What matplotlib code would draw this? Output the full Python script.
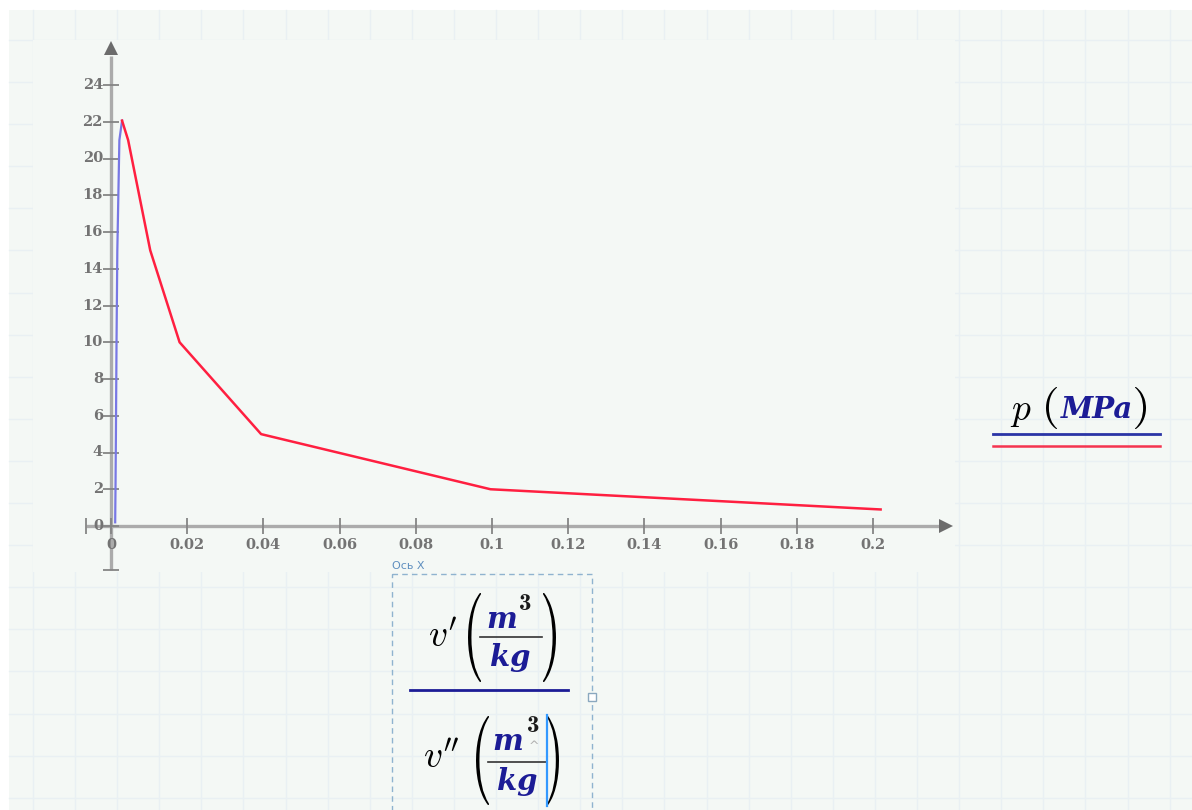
import numpy as np
import matplotlib
matplotlib.use("Agg")
import matplotlib.pyplot as plt
from matplotlib.patches import Rectangle, PathPatch
from matplotlib.textpath import TextPath
from matplotlib.font_manager import FontProperties
from matplotlib.transforms import Affine2D

plt.rcParams['mathtext.fontset'] = 'cm'

# saturation line of water: liquid v' and vapour v'' vs pressure
v_liq = [0.0011, 0.00113, 0.00118, 0.00129, 0.00145, 0.00166, 0.0022, 0.0029]
p_liq = [0.2, 1, 2, 5, 10, 15, 21, 22.06]
v_vap = [0.0029, 0.0045, 0.0103, 0.018, 0.0394, 0.0996, 0.202]
p_vap = [22.06, 21, 15, 10, 5, 2, 0.9]

x_ticks = [0, 0.02, 0.04, 0.06, 0.08, 0.1, 0.12, 0.14, 0.16, 0.18, 0.2]
x_labels = ["0", "0.02", "0.04", "0.06", "0.08", "0.1", "0.12", "0.14", "0.16", "0.18", "0.2"]
y_ticks = [0, 2, 4, 6, 8, 10, 12, 14, 16, 18, 20, 22, 24]
y_labels = [str(t) for t in y_ticks]

SHEET = '#f4f8f5'
GRID = '#e9f0f3'
AXIS = '#ababab'
TICK = '#858585'
LABEL = '#737373'
NAVY = '#1c1c96'

fig = plt.figure(figsize=(11.92, 8.10), dpi=100, facecolor='white')

# worksheet background in pixel coordinates
bg = fig.add_axes([0, 0, 1, 1])
bg.set_xlim(0, 1192)
bg.set_ylim(810, 0)
bg.axis('off')
bg.add_patch(Rectangle((9, 10), 1200, 820, fc=SHEET, ec='none', zorder=0))
for gx in np.arange(33, 1192, 42.1):
    bg.plot([gx, gx], [10, 810], color=GRID, lw=1, zorder=1)
for gy in np.arange(40, 810, 42.1):
    bg.plot([9, 1192], [gy, gy], color=GRID, lw=1, zorder=1)
# plot region hides the sheet grid
bg.add_patch(Rectangle((33, 40), 922, 532, fc=SHEET, ec='none', zorder=2))


def paren(ax, char, x0, y_top, w, h, color='black'):
    tp = TextPath((0, 0), char, size=40, prop=FontProperties(family='cmr10'))
    ext = tp.get_extents()
    tr = (Affine2D().translate(-ext.x0, -ext.y1)
          .scale(w / ext.width, -h / ext.height).translate(x0, y_top))
    ax.add_patch(PathPatch(tr.transform_path(tp), fc=color, ec='none', zorder=5))


# main plot, scaled so data units land on the sheet
ax = fig.add_axes([0, 0, 1, 1])
ax.patch.set_alpha(0)
ax.set_xlim(-111 / 3810, (1192 - 111) / 3810)
ax.set_ylim((526 - 810) / 18.375, 526 / 18.375)
ax.axis('off')

ax.plot([-0.0066, 0.2180], [0, 0], color=AXIS, lw=2.4, solid_capstyle='butt', zorder=3)
ax.plot([0, 0], [-2.4, 25.6], color=AXIS, lw=2.4, solid_capstyle='butt', zorder=3)
ax.plot([0.2192], [0], marker='>', ms=10, color='#6c6c6c', mew=0, zorder=4)
ax.plot([0], [26.0], marker='^', ms=10, color='#6c6c6c', mew=0, zorder=4)

ax.plot(x_ticks + [-0.0066], [0] * (len(x_ticks) + 1), ls='none', marker='|',
        ms=11, mew=1.3, color=TICK, zorder=4)
ax.plot([0] * (len(y_ticks) + 1), y_ticks + [-2.4], ls='none', marker='_',
        ms=12, mew=1.3, color=TICK, zorder=4)

for xt, lab in zip(x_ticks, x_labels):
    ax.text(xt, -1.05, lab, ha='center', va='center', fontsize=10.5,
            family='DejaVu Serif', fontweight='bold', color=LABEL)
for yt, lab in zip(y_ticks, y_labels):
    ax.text(-0.0021, yt, lab, ha='right', va='center', fontsize=10.5,
            family='DejaVu Serif', fontweight='bold', color=LABEL)

ax.plot(v_liq, p_liq, color='#7878e4', lw=1.6, zorder=6)
ax.plot(v_vap, p_vap, color='#ff1f40', lw=1.8, zorder=6)

# legend: p (MPa)
bg.text(1021, 411, r"$p$", fontsize=27, ha='center', va='center', zorder=5)
paren(bg, "(", 1046, 387, 11, 42)
bg.text(1097, 410, "MPa", fontsize=21, family='DejaVu Serif', style='italic',
        fontweight='bold', color=NAVY, ha='center', va='center', zorder=5)
paren(bg, ")", 1135, 387, 11, 42)
bg.plot([993, 1160], [434, 434], color='#2a34a6', lw=2, zorder=5)
bg.plot([993, 1160], [446, 446], color='#f5344f', lw=1.8, zorder=5)

# x-axis label box
bg.add_patch(Rectangle((392, 574), 200, 240, fc='none', ec='#8fb3cf', lw=1,
                       ls=(0, (4, 3)), zorder=5))
bg.text(392, 566, "Ось X", fontsize=8, color='#5f8fbf', ha='left', va='center', zorder=5)
bg.add_patch(Rectangle((588, 693), 8, 8, fc='white', ec='#8aa8bf', lw=1, zorder=6))

# upper part: v' (m^3/kg)
bg.text(443, 637, r"$v'$", fontsize=27, ha='center', va='center', zorder=5)
paren(bg, "(", 468, 593, 13, 89)
bg.text(502, 619, "m", fontsize=21, family='DejaVu Serif', style='italic',
        fontweight='bold', color=NAVY, ha='center', va='center', zorder=5)
bg.text(525, 604, "3", fontsize=18, family='cmb10', color='#1a1a1a',
        ha='center', va='center', zorder=5)
bg.plot([480, 542], [637, 637], color='#333333', lw=1.2, zorder=5)
bg.text(510, 657, "kg", fontsize=21, family='DejaVu Serif', style='italic',
        fontweight='bold', color=NAVY, ha='center', va='center', zorder=5)
paren(bg, ")", 543, 593, 13, 89)

bg.plot([410, 568], [690, 690], color=NAVY, lw=2, zorder=5)

# lower part: v'' (m^3/kg)
bg.text(441, 758, r"$v''$", fontsize=27, ha='center', va='center', zorder=5)
paren(bg, "(", 476, 716, 13, 89)
bg.text(508, 741, "m", fontsize=21, family='DejaVu Serif', style='italic',
        fontweight='bold', color=NAVY, ha='center', va='center', zorder=5)
bg.text(533, 726, "3", fontsize=18, family='cmb10', color='#1a1a1a',
        ha='center', va='center', zorder=5)
bg.text(534, 747, "^", fontsize=9, color='#b0b0b0', ha='center', va='center', zorder=5)
bg.plot([488, 546], [762, 762], color='#333333', lw=1.2, zorder=5)
bg.text(517, 781, "kg", fontsize=21, family='DejaVu Serif', style='italic',
        fontweight='bold', color=NAVY, ha='center', va='center', zorder=5)
bg.plot([547, 547], [715, 806], color='#3399ff', lw=1.6, zorder=6)
paren(bg, ")", 547, 716, 12, 89)

fig.savefig("out.png", dpi=100, facecolor='white')
